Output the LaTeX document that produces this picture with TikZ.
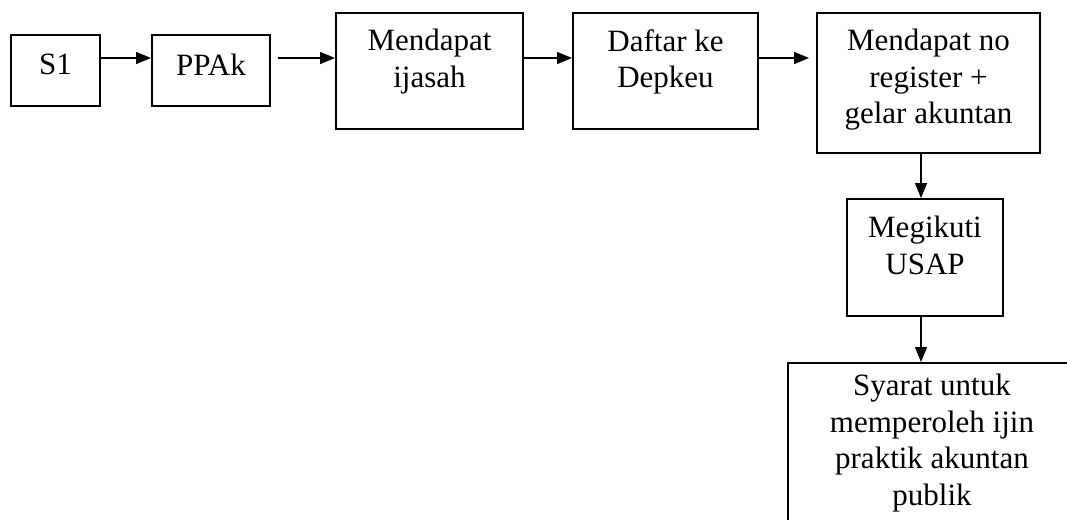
\documentclass[tikz,border=0pt]{standalone}
\usepackage{fontspec}
\setmainfont{Liberation Serif}
\usetikzlibrary{arrows.meta,positioning}
\tikzset{
  >={Triangle[length=15pt,width=12pt]},
  box/.style={draw, line width=2pt, inner sep=0pt, anchor=north west},
  txt/.style={align=center, inner sep=0pt, anchor=north,
    font=\fontsize{31}{36.5}\selectfont},
  arr/.style={->, line width=1.4pt},
}

\begin{document}
\begin{tikzpicture}[x=1pt, y=-1pt]
  \useasboundingbox (0,0) rectangle (1067,519);
  \clip (0,0) rectangle (1067,519);
  % ---------------- boxes ----------------
  \node[box, minimum width=89pt,  minimum height=71pt]  (s1)       at (10,34)   {};
  \node[box, minimum width=118pt, minimum height=71pt]  (ppak)     at (151,34)  {};
  \node[box, minimum width=187pt, minimum height=116pt] (ijasah)   at (335,12)  {};
  \node[box, minimum width=185pt, minimum height=116pt] (depkeu)   at (572,12)  {};
  \node[box, minimum width=223pt, minimum height=140pt] (register) at (816,12)  {};
  \node[box, minimum width=156pt, minimum height=117pt] (usap)     at (846,198) {};
  \node[box, minimum width=288pt, minimum height=180pt] (syarat)   at (787,362) {};
  % ---------------- texts ----------------
  \node[txt, below=20pt of s1.north]       (s1-t)       {S1};
  \node[txt, below=20pt of ppak.north]     (ppak-t)     {PPAk};
  \node[txt, below=17pt of ijasah.north]   (ijasah-t)   {Mendapat\\ijasah};
  \node[txt, below=17pt of depkeu.north]   (depkeu-t)   {Daftar ke\\Depkeu};
  \node[txt, below=17pt of register.north] (register-t) {Mendapat no\\register +\\gelar akuntan};
  \node[txt, below=18pt of usap.north]     (usap-t)     {Megikuti\\USAP};
  \node[txt, below=12pt of syarat.north]   (syarat-t)   {Syarat untuk\\memperoleh ijin\\praktik akuntan\\publik};
  % ---------------- connectors ----------------
  \coordinate (row) at (0,58);
  \coordinate (col) at (921,0);
  \draw[arr] (s1.east |- row) -- (ppak.west |- row);
  \draw[arr, shorten <=7pt] (ppak.east |- row) -- (ijasah.west |- row);
  \draw[arr] (ijasah.east |- row) -- (depkeu.west |- row);
  \draw[arr, shorten >=7pt] (depkeu.east |- row) -- (register.west |- row);
  \draw[arr] (register.south -| col) -- (usap.north -| col);
  \draw[arr] (usap.south -| col) -- (syarat.north -| col);
\end{tikzpicture}
\end{document}
